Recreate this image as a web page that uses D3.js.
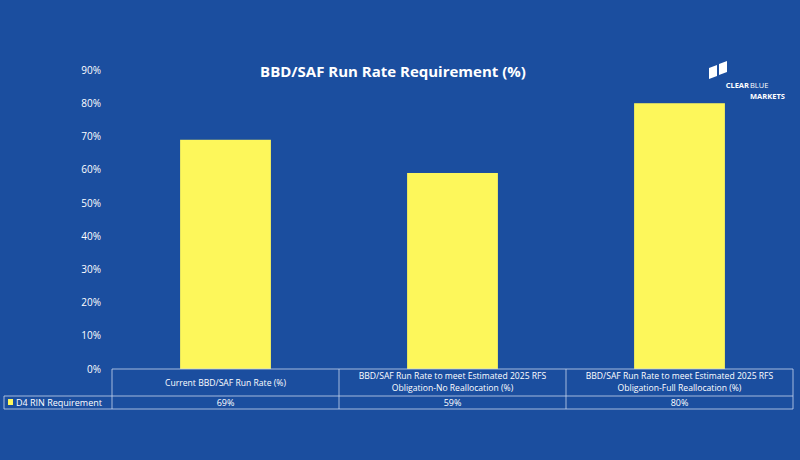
<!DOCTYPE html><html><head><meta charset="utf-8"><script src="https://cdn.jsdelivr.net/npm/d3@7"></script>
<style>body{margin:0;background:#1b4e9f}text{font-family:"Open Sans",sans-serif;fill:#fff}</style></head><body><svg id="c" width="800" height="460"></svg><script>
const categories=[["Current BBD/SAF Run Rate (%)"],["BBD/SAF Run Rate to meet Estimated 2025 RFS","Obligation-No Reallocation (%)"],["BBD/SAF Run Rate to meet Estimated 2025 RFS","Obligation-Full  Reallocation (%)"]];
const values=[69,59,80];
const valueLabels=["69%","59%","80%"];
const seriesName="D4 RIN Requirement";
const yTicks=[0,10,20,30,40,50,60,70,80,90];
const svg=d3.select("#c");
svg.append("rect").attr("width",800).attr("height",460).attr("fill","#1b4e9f");
const L=112,R=793,T=70,B=369;
const x=d3.scaleBand().domain(d3.range(3)).range([L,R]).paddingInner(0.6).paddingOuter(0.3);
const xc=d3.scaleBand().domain(d3.range(3)).range([L,R]);
const y=d3.scaleLinear().domain([0,90]).range([B,T]);
svg.selectAll(".bar").data(values).join("rect").attr("x",(d,i)=>x(i)).attr("width",x.bandwidth()).attr("y",d=>y(d)).attr("height",d=>B-y(d)).attr("fill","#fdf75b");
const ya=svg.append("g").attr("transform",`translate(${L-8},0)`).call(d3.axisLeft(y).tickValues(yTicks).tickFormat(d=>d+"%").tickSize(0));
ya.select(".domain").remove();ya.selectAll("text").attr("font-size",10).attr("fill","#fff").style("font-family","Open Sans");
svg.append("text").attr("x",393).attr("y",77).attr("text-anchor","middle").attr("font-size",15).attr("font-weight","bold").text("BBD/SAF Run Rate Requirement (%)");
const g=svg.append("g").attr("stroke","#c8d6ee").attr("stroke-width",0.8);
g.append("line").attr("x1",L).attr("x2",R).attr("y1",B).attr("y2",B);
g.append("line").attr("x1",4).attr("x2",R).attr("y1",396).attr("y2",396);
g.append("line").attr("x1",4).attr("x2",R).attr("y1",409).attr("y2",409);
g.append("line").attr("x1",4).attr("x2",4).attr("y1",396).attr("y2",409);
[0,1,2].forEach(i=>g.append("line").attr("x1",xc(i)).attr("x2",xc(i)).attr("y1",B).attr("y2",409));
g.append("line").attr("x1",R).attr("x2",R).attr("y1",B).attr("y2",409);
categories.forEach((c,i)=>{const cx=xc(i)+xc.bandwidth()/2;const n=c.length;
c.forEach((s,j)=>svg.append("text").attr("x",cx).attr("y",(n===1?386:379+j*12)).attr("text-anchor","middle").attr("font-size",8.6).text(s));
svg.append("text").attr("x",cx).attr("y",406).attr("text-anchor","middle").attr("font-size",9).text(valueLabels[i]);});
svg.append("rect").attr("x",8).attr("y",399).attr("width",5).attr("height",6).attr("fill","#fdf75b");
svg.append("text").attr("x",16).attr("y",406).attr("font-size",9).text(seriesName);
svg.append("path").attr("d","M709,68 L717,65 L717,76 L709,79Z M719,64 L727,61 L727,72 L719,75Z").attr("fill","#fff");
svg.append("text").attr("x",749).attr("y",88).attr("text-anchor","end").attr("font-size",7.5).attr("font-weight","bold").text("CLEAR");
svg.append("text").attr("x",750).attr("y",88).attr("font-size",7.5).text("BLUE");
svg.append("text").attr("x",750).attr("y",99).attr("font-size",7.5).attr("font-weight","bold").text("MARKETS");
</script></body></html>
